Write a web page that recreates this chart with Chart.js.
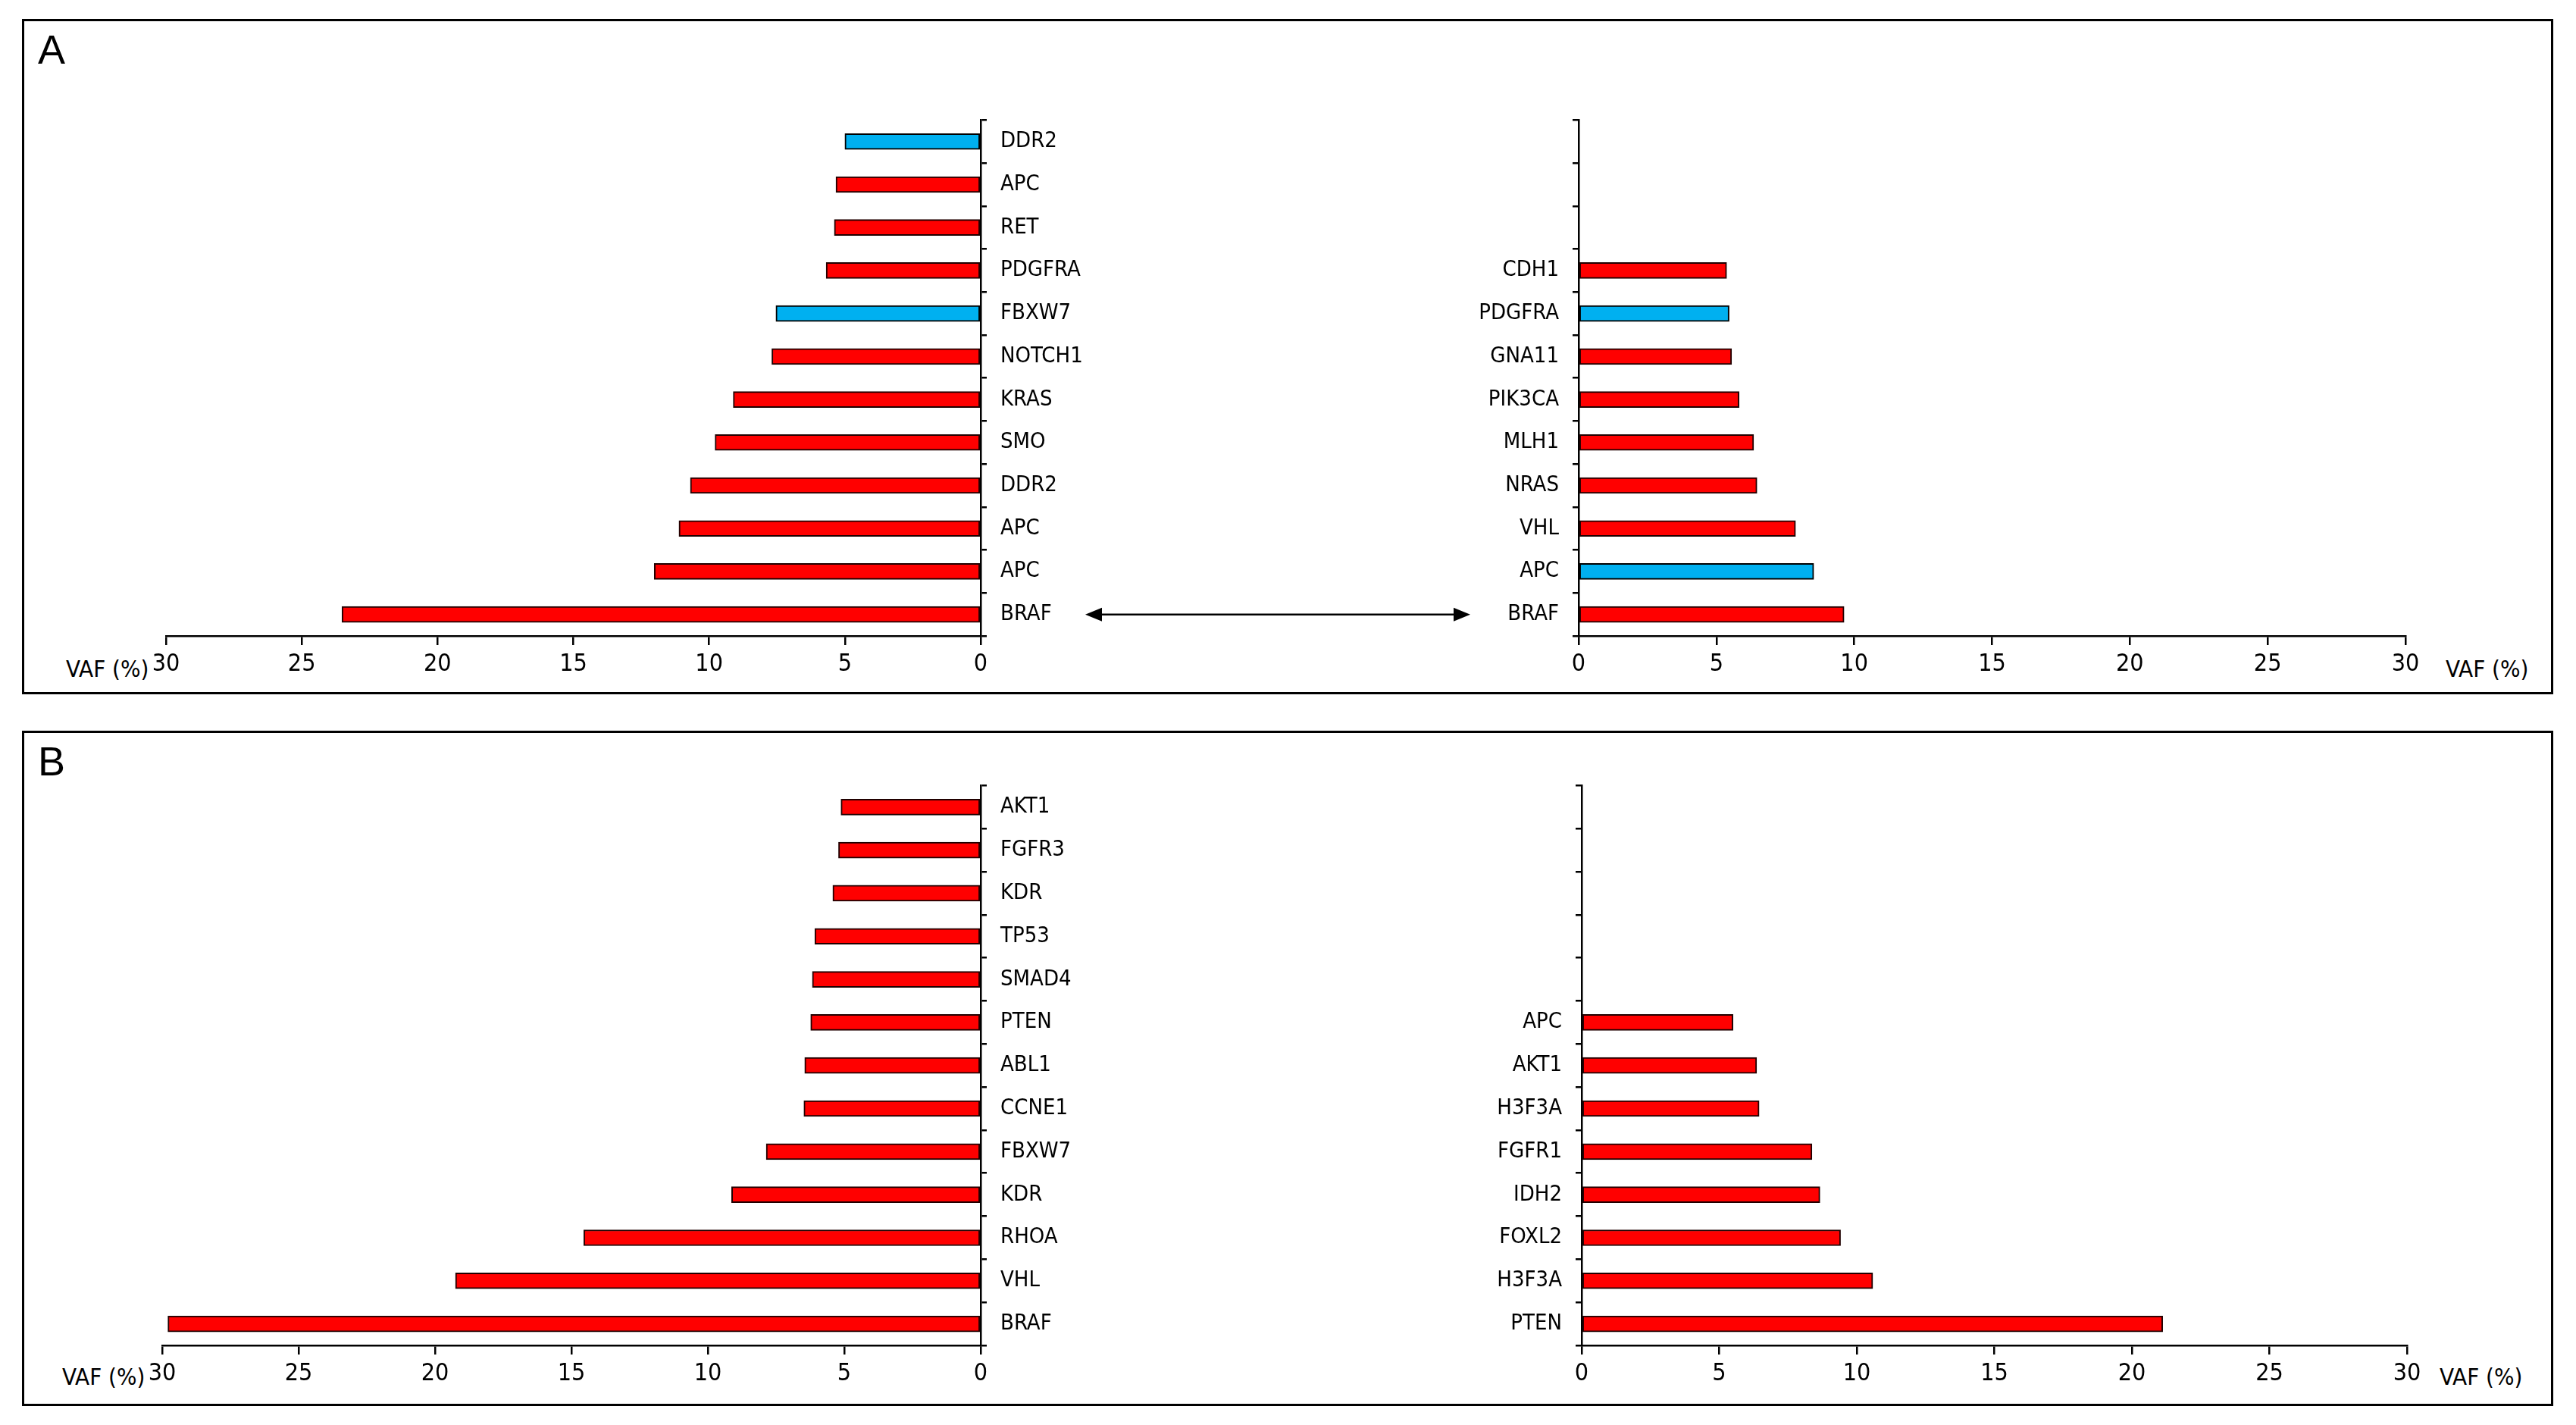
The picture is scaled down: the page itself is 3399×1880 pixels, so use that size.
<!DOCTYPE html>
<html><head><meta charset="utf-8">
<script src="https://cdn.jsdelivr.net/npm/chart.js@4.4.0/dist/chart.umd.min.js"></script>
<style>
html,body{margin:0;padding:0;background:#fff;}
#page{position:relative;width:3399px;height:1880px;background:#fff;overflow:hidden;font-family:"Liberation Sans Narrow","DejaVu Sans Condensed",sans-serif;color:#000;}
.box{position:absolute;border:3px solid #000;box-sizing:border-box;}
.wrap{position:absolute;}
.panel{position:absolute;font-family:"Liberation Sans",Arial,sans-serif;font-size:54px;line-height:1;}
.vaf{position:absolute;font-size:31px;line-height:40px;height:40px;white-space:nowrap;}
#ov{position:absolute;left:0;top:0;pointer-events:none;}
</style></head><body>
<div id="page">
  <div class="box" style="left:29px;top:25px;width:3340px;height:891px;"></div>
  <div class="box" style="left:29px;top:964px;width:3340px;height:891px;"></div>
  <div class="panel" style="left:50px;top:38px;">A</div>
  <div class="panel" style="left:50px;top:977px;">B</div>
  <div class="vaf" style="left:87px;top:862px;">VAF (%)</div>
  <div class="vaf" style="left:3227px;top:862px;">VAF (%)</div>
  <div class="vaf" style="left:82px;top:1796px;">VAF (%)</div>
  <div class="vaf" style="left:3219px;top:1796px;">VAF (%)</div>
  <div class="wrap" style="left:169px;top:123px;width:1285px;height:786px;"><canvas id="cAL"></canvas></div>
  <div class="wrap" style="left:1923px;top:123px;width:1291px;height:786px;"><canvas id="cAR"></canvas></div>
  <div class="wrap" style="left:164px;top:1001px;width:1290px;height:844px;"><canvas id="cBL"></canvas></div>
  <div class="wrap" style="left:1927px;top:1001px;width:1289px;height:844px;"><canvas id="cBR"></canvas></div>
  <canvas id="ov" width="3399" height="1880"></canvas>
</div>
<script>
// ---- Data ----
const aLeftLabels = ['DDR2','APC','RET','PDGFRA','FBXW7','NOTCH1','KRAS','SMO','DDR2','APC','APC','BRAF'];
const aLeftValues = [5.0,5.33,5.39,5.69,7.54,7.69,9.11,9.78,10.69,11.11,12.02,23.52];
const aLeftGroup  = [1,0,0,0,1,0,0,0,0,0,0,0];

const aRightLabels = ['','','','CDH1','PDGFRA','GNA11','PIK3CA','MLH1','NRAS','VHL','APC','BRAF'];
const aRightValues = [null,null,null,5.37,5.46,5.55,5.82,6.35,6.47,7.87,8.53,9.63];
const aRightGroup  = [0,0,0,0,1,0,0,0,0,0,1,0];

const bLeftLabels = ['AKT1','FGFR3','KDR','TP53','SMAD4','PTEN','ABL1','CCNE1','FBXW7','KDR','RHOA','VHL','BRAF'];
const bLeftValues = [5.12,5.21,5.42,6.08,6.17,6.23,6.45,6.48,7.86,9.13,14.55,19.25,29.79];
const bLeftGroup  = [0,0,0,0,0,0,0,0,0,0,0,0,0];

const bRightLabels = ['','','','','','APC','AKT1','H3F3A','FGFR1','IDH2','FOXL2','H3F3A','PTEN'];
const bRightValues = [null,null,null,null,null,5.5,6.36,6.45,8.37,8.66,9.41,10.58,21.12];
const bRightGroup  = [0,0,0,0,0,0,0,0,0,0,0,0,0];

const xTickStep = 5, xMin = 0, xMax = 30;

// ---- Styles ----
const RED = '#FF0000', BLUE = '#00B0F0';
const FONT = '"Liberation Sans Narrow","DejaVu Sans Condensed",sans-serif';
Chart.defaults.font.family = FONT;
Chart.defaults.color = '#000';

function makeChart(id, labels, values, groups, side, yWidth, pad) {
  const isLeft = side === 'left';
  return new Chart(document.getElementById(id), {
    type: 'bar',
    data: {
      labels: labels,
      datasets: [{
        data: values,
        backgroundColor: groups.map(g => g ? BLUE : RED),
        borderColor: groups.map(g => g ? '#000' : '#200000'),
        borderWidth: 2,
        borderSkipped: false,
        barThickness: 21
      }]
    },
    options: {
      indexAxis: 'y',
      responsive: true,
      maintainAspectRatio: false,
      animation: false,
      layout: { padding: pad },
      plugins: { legend: { display: false }, tooltip: { enabled: false } },
      scales: {
        x: {
          type: 'linear', min: xMin, max: xMax, reverse: isLeft,
          ticks: { stepSize: xTickStep, color: '#000', font: { size: 32 }, padding: 6, maxRotation: 0 },
          grid: { display: true, drawOnChartArea: false, drawTicks: true, tickLength: 12, color: '#000', lineWidth: 2.5 },
          border: { display: true, color: '#000', width: 2.5 },
          afterFit: s => { s.height = 70; }
        },
        y: {
          type: 'category', position: isLeft ? 'right' : 'left', offset: true,
          ticks: { color: '#000', font: { size: 29 }, padding: 18, autoSkip: false },
          grid: { display: true, offset: true, drawOnChartArea: false, tickLength: 8, color: '#000', lineWidth: 2.5 },
          border: { display: true, color: '#000', width: 2.5 },
          afterFit: s => { s.width = yWidth; }
        }
      }
    }
  });
}

const cAL = makeChart('cAL', aLeftLabels, aLeftValues, aLeftGroup, 'left', 160, {left:50, top:30, right:0, bottom:0});
const cAR = makeChart('cAR', aRightLabels, aRightValues, aRightGroup, 'right', 160, {left:0, top:30, right:40, bottom:0});
const cBL = makeChart('cBL', bLeftLabels, bLeftValues, bLeftGroup, 'left', 160, {left:50, top:30, right:0, bottom:0});
const cBR = makeChart('cBR', bRightLabels, bRightValues, bRightGroup, 'right', 160, {left:0, top:30, right:40, bottom:0});

// ---- Double arrow linking the BRAF rows of panel A ----
(function drawArrow() {
  const ov = document.getElementById('ov');
  const ctx = ov.getContext('2d');
  const wrap = document.getElementById('cAL').parentNode;
  const y = wrap.offsetTop + cAL.scales.y.getPixelForValue(aLeftLabels.length - 1);
  const x1 = 1432, x2 = 1940, head = 22, hh = 9;
  ctx.strokeStyle = '#000'; ctx.fillStyle = '#000'; ctx.lineWidth = 2.5;
  ctx.beginPath(); ctx.moveTo(x1 + head - 2, y); ctx.lineTo(x2 - head + 2, y); ctx.stroke();
  ctx.beginPath(); ctx.moveTo(x1, y); ctx.lineTo(x1 + head, y - hh); ctx.lineTo(x1 + head, y + hh); ctx.closePath(); ctx.fill();
  ctx.beginPath(); ctx.moveTo(x2, y); ctx.lineTo(x2 - head, y - hh); ctx.lineTo(x2 - head, y + hh); ctx.closePath(); ctx.fill();
})();
</script>
</body></html>
